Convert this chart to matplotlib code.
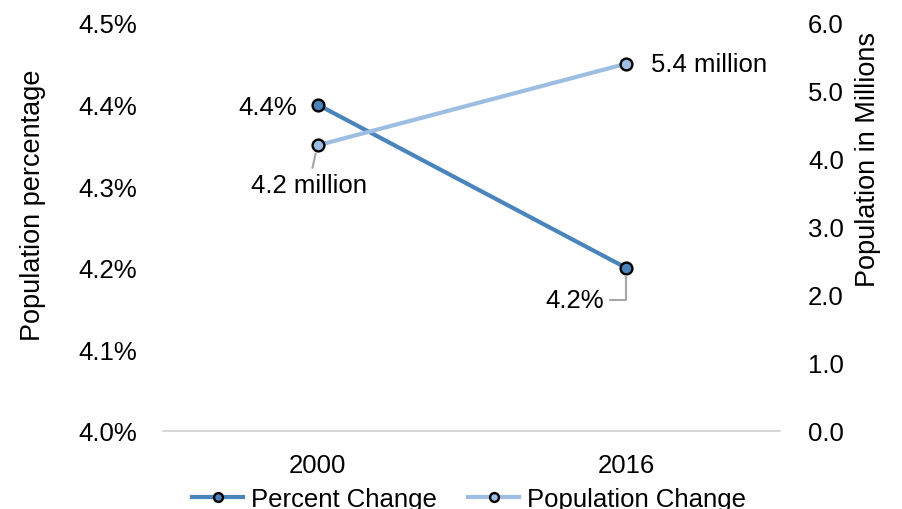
import matplotlib.pyplot as plt
from matplotlib.ticker import FuncFormatter

plt.rcParams['font.family'] = ['Liberation Sans', 'DejaVu Sans']

years = ['2000', '2016']
percent = [4.4, 4.2]          # share of population, %
population = [4.2, 5.4]       # population in millions

percent_labels = ['4.4%', '4.2%']
population_labels = ['4.2 million', '5.4 million']

dark_blue = '#4A84BD'
light_blue = '#9DBDE2'
fs = 18.5

fig = plt.figure(figsize=(9.02, 5.10), dpi=100)
ax = fig.add_axes([0.181, 0.153, 0.684, 0.800])
ax2 = ax.twinx()

x = range(len(years))
l1, = ax.plot(x, percent, '-o', color=dark_blue, linewidth=3, markersize=8.5,
              markerfacecolor=dark_blue, markeredgecolor='black', markeredgewidth=1.7,
              label='Percent Change', zorder=3)
l2, = ax2.plot(x, population, '-o', color=light_blue, linewidth=3, markersize=8.5,
               markerfacecolor=light_blue, markeredgecolor='black', markeredgewidth=1.7,
               label='Population Change', zorder=3)

ax.set_xlim(-0.5, 1.5)
ax.set_ylim(4.0, 4.5)
ax.set_yticks([4.0, 4.1, 4.2, 4.3, 4.4, 4.5])
ax.yaxis.set_major_formatter(FuncFormatter(lambda v, p: f'{v:.1f}%'))
ax2.set_ylim(0, 6)
ax2.set_yticks(range(7))
ax2.yaxis.set_major_formatter(FuncFormatter(lambda v, p: f'{v:.1f}'))

ax.set_xticks(list(x))
ax.set_xticklabels(years)

for a in (ax, ax2):
    for s in a.spines.values():
        s.set_visible(False)
    a.tick_params(length=0, labelsize=fs, colors='black')
ax.spines['bottom'].set_visible(True)
ax.spines['bottom'].set_color('#D0D0D0')
ax.spines['bottom'].set_linewidth(1.2)
ax.tick_params(axis='y', pad=19)
ax.tick_params(axis='x', pad=16)
ax2.tick_params(axis='y', pad=20)

# axis titles sit a little above the vertical centre
ax.set_ylabel('Population percentage', fontsize=19.5, va='center')
ax.yaxis.set_label_coords(-0.211, 0.556)
ax2.set_ylabel('Population in Millions', fontsize=19.5, va='center')
ax2.yaxis.set_label_coords(1.143, 0.669)

lead = dict(arrowstyle='-', color='#A6A6A6', linewidth=1.5, shrinkA=2, shrinkB=6)

ax.annotate(percent_labels[0], (0, percent[0]), xytext=(-20, -2),
            textcoords='offset pixels', ha='right', va='center', fontsize=fs)
ax.annotate(percent_labels[1], (1, percent[1]), xytext=(-22, -32),
            textcoords='offset pixels', ha='right', va='center', fontsize=fs,
            arrowprops=dict(lead, connectionstyle='angle,angleA=0,angleB=90,rad=0'))
ax2.annotate(population_labels[0], (0, population[0]), xytext=(-9, -40),
             textcoords='offset pixels', ha='center', va='center', fontsize=fs,
             arrowprops=lead)
ax2.annotate(population_labels[1], (1, population[1]), xytext=(25, 0),
             textcoords='offset pixels', ha='left', va='center', fontsize=fs)

fig.legend(handles=[l1, l2], loc='center', bbox_to_anchor=(0.52, 0.02),
           ncol=2, frameon=False, fontsize=fs, handlelength=2.0,
           markerscale=0.75, columnspacing=1.2, handletextpad=0.3)

fig.savefig('out.png', dpi=100)
